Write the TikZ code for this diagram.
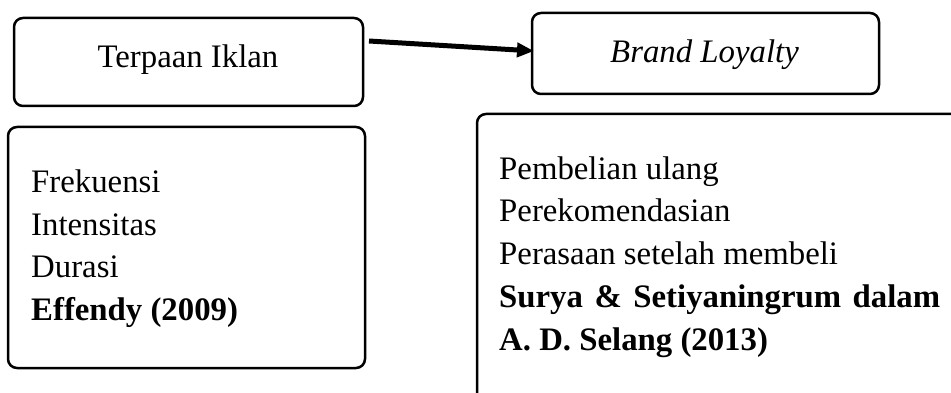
\documentclass[tikz,border=0pt]{standalone}
\usepackage{fontspec}
\setmainfont{Liberation Serif}
\usetikzlibrary{arrows.meta}
\begin{document}
\begin{tikzpicture}[x=1pt,y=-1pt,
  box/.style={draw=black,line width=2.5pt,rounded corners=9pt,inner sep=0pt},
  txt/.style={inner sep=0pt,anchor=base west,font=\fontsize{32.8}{42}\selectfont},
  ctxt/.style={inner sep=0pt,anchor=base,font=\fontsize{32.8}{42}\selectfont}]
\useasboundingbox (0,0) rectangle (951,393);
\clip (0,0) rectangle (951,393);
% boxes
\node[box,minimum width=349pt,minimum height=88pt] (b1) at (188.5,62) {};
\node[box,minimum width=347pt,minimum height=81pt] (b2) at (705.5,53.5) {};
\node[box,minimum width=357pt,minimum height=241pt] (b3) at (186.5,247.5) {};
\node[box,minimum width=490pt,minimum height=300pt] (b4) at (722,264) {};
% titles
\node[ctxt] (t1) at (188,68) {Terpaan Iklan};
\node[ctxt] (t2) at (704.5,63) {\itshape Brand Loyalty};
% left list
\node[txt] (l1) at (31,193) {Frekuensi};
\node[txt] (l2) at (31,235) {Intensitas};
\node[txt] (l3) at (31,277) {Durasi};
\node[txt] (l4) at (31,320) {\bfseries Effendy (2009)};
% right list
\node[txt] (r1) at (499,180) {Pembelian ulang};
\node[txt] (r2) at (499,222) {Perekomendasian};
\node[txt] (r3) at (499,264) {Perasaan setelah membeli};
\node[txt] (r4) at (499,307) {\bfseries\makebox[441pt][s]{Surya\hfill\&\hfill Setiyaningrum\hfill dalam}};
\node[txt] (r5) at (499,350) {\bfseries A. D. Selang (2013)};
% arrow
\coordinate (a1) at (369,41);
\coordinate (a2) at (534,51);
\draw[line width=5pt,-{Triangle[length=17pt,width=14pt]}] (a1) -- (a2);
\end{tikzpicture}
\end{document}
